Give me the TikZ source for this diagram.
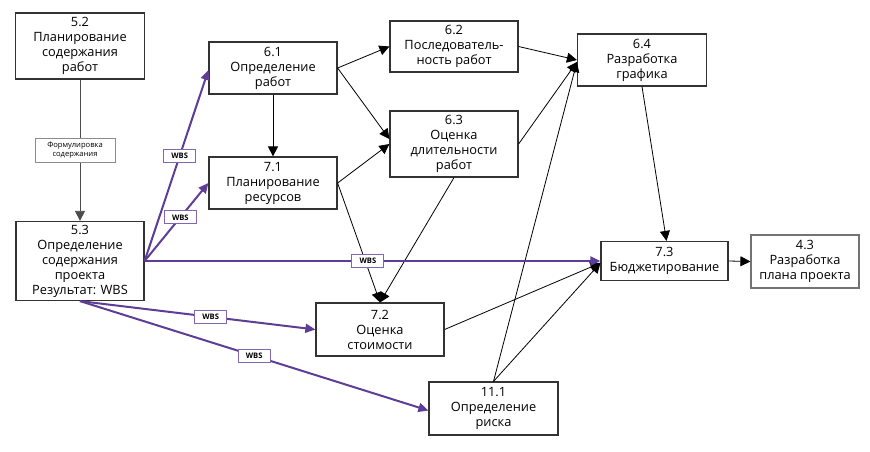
\documentclass[tikz,border=0pt]{standalone}
\usepackage{fontspec}
\setmainfont{Open Sans}
\usetikzlibrary{arrows.meta}
\definecolor{wbspurple}{RGB}{94,61,150}
\definecolor{wbsframe}{RGB}{128,102,180}
\tikzset{
	proc/.style={draw=black!80, line width=1.2pt, fill=white, align=center, inner sep=0pt,
		font=\fontsize{12.8}{15}\selectfont},
	flow/.style={-{Triangle[length=10pt,width=10pt]}, line width=0.8pt},
	wbsflow/.style={-{Triangle[length=10pt,width=9pt]}, line width=2pt, draw=wbspurple},
	wbstag/.style={draw=wbsframe, line width=1.1pt, fill=white, inner sep=0pt,
		minimum width=32pt, minimum height=13pt, font=\fontsize{7.6}{8}\selectfont\bfseries},
	notetag/.style={draw=black!45, line width=0.7pt, fill=white, align=center, inner sep=0pt,
		minimum width=80pt, minimum height=24pt, font=\fontsize{7.6}{9}\selectfont},
}

\begin{document}
\begin{tikzpicture}[x=1pt, y=-1pt]
			%%%%% START %%%%%
			\useasboundingbox (0, 0) rectangle (870, 451);
			
			% processes
			\node[proc, minimum width=129pt, minimum height=66pt] (p52) at (80, 46) {5.2\\Планирование\\содержания\\работ};
			\node[proc, minimum width=128pt, minimum height=79pt] (p53) at (80, 261) {5.3\\Определение\\содержания\\проекта\\Результат: WBS};
			\node[proc, minimum width=128pt, minimum height=52pt] (p61) at (273, 68) {6.1\\Определение\\работ};
			\node[proc, minimum width=128pt, minimum height=52pt] (p71) at (273, 183) {7.1\\Планирование\\ресурсов};
			\node[proc, minimum width=128pt, minimum height=51pt] (p62) at (454, 46.5) {6.2\\Последователь-\\ность работ};
			\node[proc, minimum width=128pt, minimum height=66pt] (p63) at (454, 144) {6.3\\Оценка\\длительности\\работ};
			\node[proc, minimum width=129pt, minimum height=52pt] (p64) at (642, 60) {6.4\\Разработка\\графика};
			\node[proc, minimum width=128pt, minimum height=53pt] (p72) at (380, 329.5) {7.2\\Оценка\\стоимости};
			\node[proc, minimum width=129pt, minimum height=53pt] (p111) at (493.5, 408.5) {11.1\\Определение\\риска};
			\node[proc, minimum width=127pt, minimum height=39pt] (p73) at (664.5, 261) {7.3\\Бюджетирование};
			\node[proc, draw=black!55, minimum width=108pt, minimum height=53pt] (p43) at (805, 261.5) {4.3\\Разработка\\плана проекта};
			
			% black links
			\draw[flow, draw=black!70] (p52.south) -- node[notetag, xshift=-5pt] (fs) {Формулировка\\содержания} (p53.north);
			\draw[flow] (p61.south) -- (p71.north);
			\draw[flow] (p61.east) -- (p62.west);
			\draw[flow] (p61.east) -- ([yshift=5pt]p63.west);
			\draw[flow] (p71.east) -- (p63.west);
			\draw[flow] (p71.east) -- (p72.north);
			\draw[flow] (p63.south) -- (p72.north);
			\draw[flow] (p62.east) -- (p64.west);
			\draw[flow] (p63.east) -- ([yshift=-2pt]p64.west);
			\draw[flow] (p111.north) -- ([yshift=-2pt]p64.west);
			\draw[flow] (p64.south) -- ([xshift=2pt]p73.north);
			\draw[flow] (p72.east) -- ([yshift=-2pt]p73.west);
			\draw[flow] (p111.north) -- ([yshift=-2pt]p73.west);
			\draw[flow] (p73.east) -- (p43.west);
			
			% WBS links
			\draw[wbsflow] (p53.east) -- node[wbstag, pos=0.55] (w61) {WBS} ([yshift=-2pt]p61.west);
			\draw[wbsflow] (p53.east) -- node[wbstag, pos=0.56] (w71) {WBS} (p71.west);
			\draw[wbsflow] (p53.east) -- node[wbstag, pos=0.49] (w73) {WBS} (p73.west);
			\draw[wbsflow] (p53.south) -- node[wbstag, pos=0.555] (w72) {WBS} (p72.west);
			\draw[wbsflow] (p53.south) -- node[wbstag, pos=0.5] (w111) {WBS} ([yshift=-2pt]p111.west);
			
			%%%%% END %%%%%
		\end{tikzpicture}
\end{document}
